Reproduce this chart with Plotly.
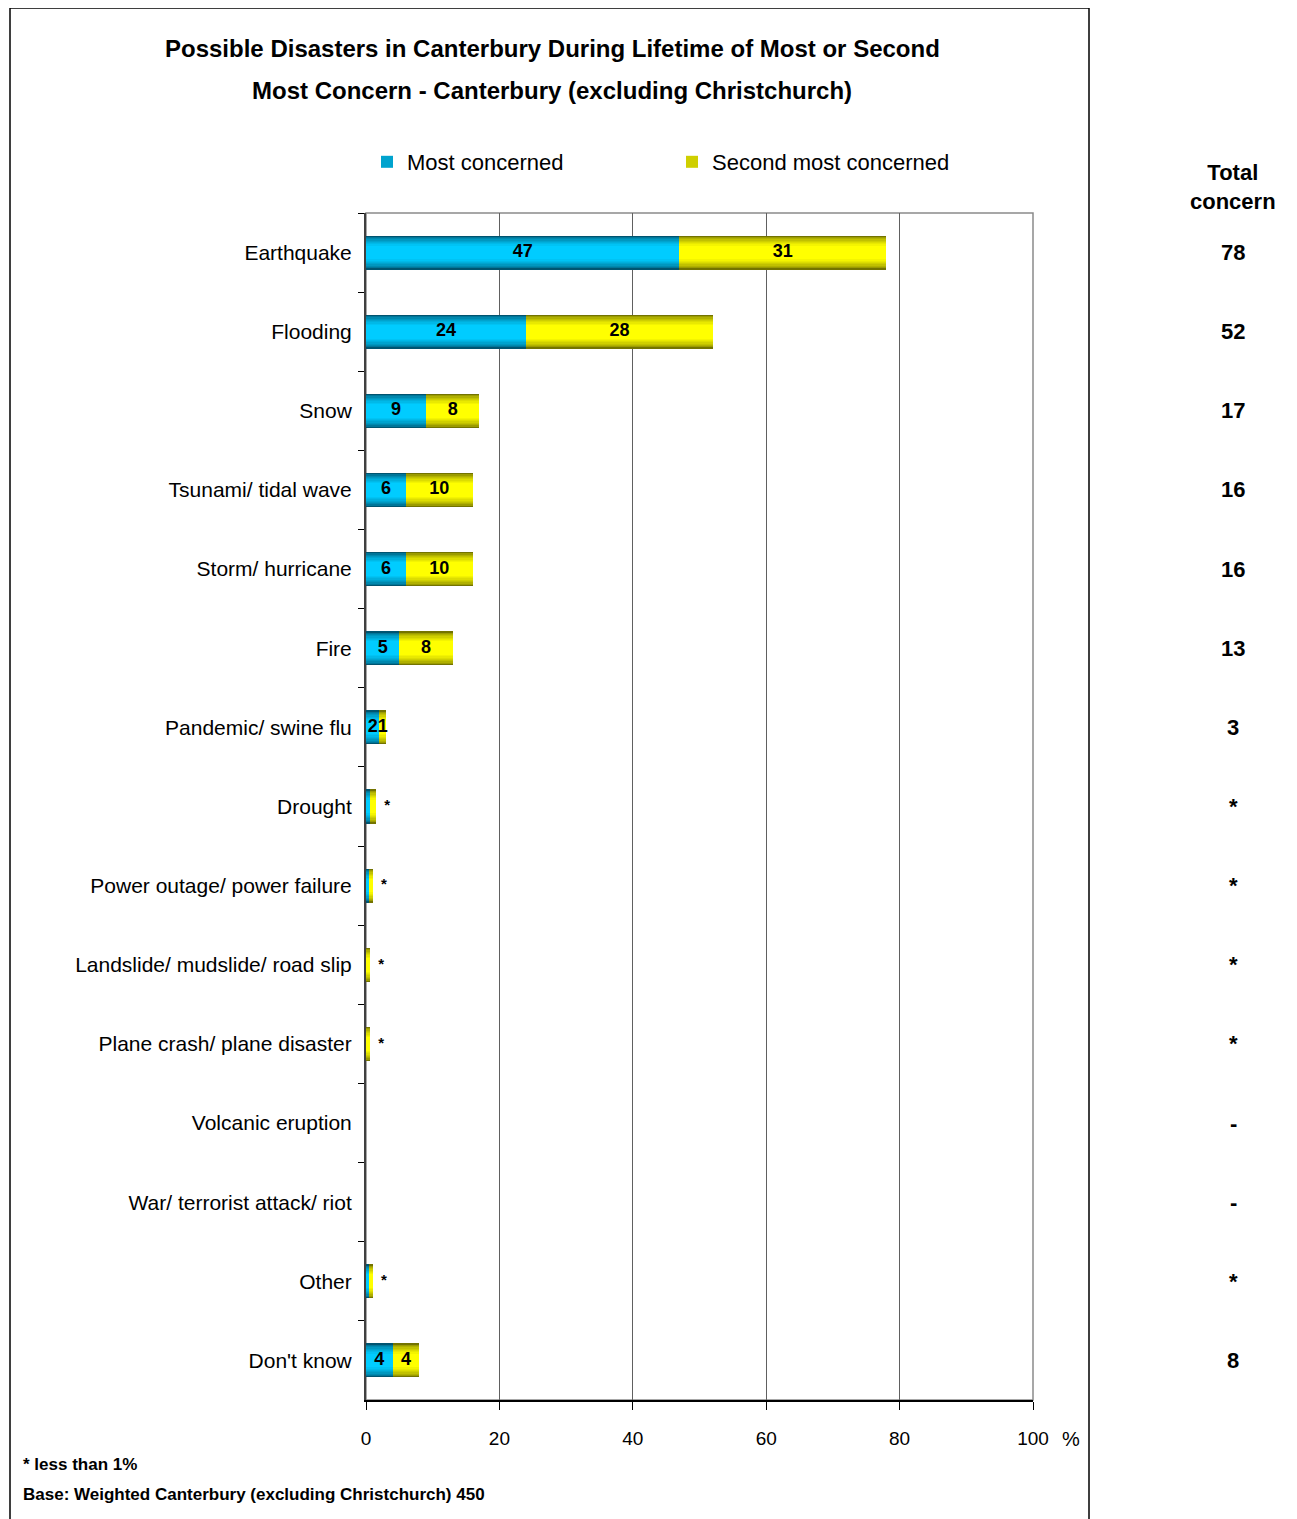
import plotly.graph_objects as go

categories = ["Earthquake", "Flooding", "Snow", "Tsunami/ tidal wave", "Storm/ hurricane",
              "Fire", "Pandemic/ swine flu", "Drought", "Power outage/ power failure",
              "Landslide/ mudslide/ road slip", "Plane crash/ plane disaster",
              "Volcanic eruption", "War/ terrorist attack/ riot", "Other", "Don't know"]
most_concerned = [47, 24, 9, 6, 6, 5, 2, 0.6, 0.4, 0, 0, 0, 0, 0.5, 4]
second_concerned = [31, 28, 8, 10, 10, 8, 1, 0.9, 0.6, 0.6, 0.6, 0, 0, 0.5, 4]
total_labels = ["78", "52", "17", "16", "16", "13", "3", "*", "*", "*", "*", "-", "-", "*", "8"]
x_ticks = [0, 20, 40, 60, 80, 100]

FONT = "Liberation Sans, Arial, sans-serif"

W, H = 1297, 1519
OFF = 8  # page body margin
PL, PR, PT, PB = 366 - OFF, 1033 - OFF, 213 - OFF, 1400 - OFF


def px_x(p):
    return (p - OFF - PL) / (PR - PL)


def px_y(p):
    return (PB - (p - OFF)) / (PB - PT)


def mix(c1, c2, t):
    return "rgb(%d,%d,%d)" % tuple(round(a + (b - a) * t) for a, b in zip(c1, c2))


fig = go.Figure()

BAR_W = 0.43
N = 9
series = [
    ("Most concerned", most_concerned, [0] * len(categories), (0, 84, 112), (0, 204, 255)),
    ("Second most concerned", second_concerned, most_concerned, (115, 115, 0), (255, 255, 0)),
]
for name, vals, base, dark, bright in series:
    for k in range(N):
        t = k / (N - 1)
        frac = 1 - 0.6 * t
        fig.add_trace(go.Bar(
            y=categories, x=vals, base=base, orientation="h",
            width=BAR_W * frac,
            marker=dict(color=mix(dark, bright, min(1, t ** 0.6)), line=dict(width=0)),
            name=name, legendgroup=name, showlegend=(k == 4),
            hoverinfo="skip",
        ))

# value labels inside bars
for vals, base in [(most_concerned, [0] * len(categories)), (second_concerned, most_concerned)]:
    mids = [b + v / 2 for v, b in zip(vals, base)]
    labels = [str(round(v)) if v >= 1 else "" for v in vals]
    fig.add_trace(go.Scatter(
        y=categories, x=mids, mode="text", text=labels, textposition="middle center",
        textfont=dict(family=FONT, size=18, color="black", weight="bold"),
        showlegend=False, hoverinfo="skip"))

# stars for <1% items
totals = [a + b for a, b in zip(most_concerned, second_concerned)]
star_x, star_y = [], []
for c, a, b, t in zip(categories, most_concerned, second_concerned, totals):
    if t > 0 and a < 1 and b < 1:
        star_x.append(t)
        star_y.append(c)
fig.add_trace(go.Scatter(
    y=star_y, x=star_x, mode="text", text=["  *"] * len(star_x), textposition="middle right",
    textfont=dict(family=FONT, size=15, color="black", weight="bold"),
    showlegend=False, hoverinfo="skip"))


def ann(text, x, y, size, bold=True, xanchor="center", yref="paper"):
    return dict(text=text, x=x, y=y, xref="paper", yref=yref, xanchor=xanchor,
                yanchor="middle", showarrow=False,
                font=dict(family=FONT, size=size, color="black",
                          weight="bold" if bold else "normal"))


annotations = [
    ann("Possible Disasters in Canterbury During Lifetime of Most or Second",
        px_x(552), px_y(49), 24),
    ann("Most Concern - Canterbury (excluding Christchurch)", px_x(552), px_y(91), 24),
    ann("Total<br>concern", px_x(1233), px_y(187), 22),
    ann("%", px_x(1071), px_y(1439), 20, bold=False),
    ann("* less than 1%", px_x(21), px_y(1464), 17, xanchor="left"),
    ann("Base: Weighted Canterbury (excluding Christchurch) 450", px_x(21), px_y(1494), 17,
        xanchor="left"),
]
for c, lab in zip(categories, total_labels):
    annotations.append(ann(lab, px_x(1233), c, 22, yref="y"))

shapes = [
    dict(type="rect", xref="paper", yref="paper", x0=0, x1=1, y0=0, y1=1,
         line=dict(color="#8a8a8a", width=1.5), layer="below"),
    dict(type="rect", xref="paper", yref="paper", x0=px_x(10), x1=px_x(1089),
         y0=px_y(1540), y1=px_y(8), line=dict(color="black", width=1.5)),
]

fig.update_layout(
    width=W, height=H,
    margin=dict(l=PL, r=W - PR, t=PT, b=H - PB, autoexpand=False),
    paper_bgcolor="white", plot_bgcolor="white",
    barmode="overlay", bargap=0,
    font=dict(family=FONT, color="black"),
    legend=dict(orientation="h", x=px_x(367), y=px_y(141), xanchor="left", yanchor="top",
                font=dict(family=FONT, size=22, color="black"),
                entrywidth=260, entrywidthmode="pixels", itemwidth=30,
                bgcolor="rgba(0,0,0,0)"),
    xaxis=dict(range=[0, 100], tickvals=x_ticks, showgrid=True, gridcolor="#606060", gridwidth=1,
               showline=True, linecolor="black", linewidth=2, ticks="outside", ticklen=8,
               tickcolor="black", tickfont=dict(family=FONT, size=19, color="black"),
               ticklabelstandoff=12, zeroline=False, fixedrange=True),
    yaxis=dict(categoryorder="array", categoryarray=categories,
               range=[len(categories) - 0.5, -0.5],
               showline=True, linecolor="#404040", linewidth=2, ticks="outside", ticklen=6,
               tickson="boundaries", tickcolor="black", showgrid=False,
               tickfont=dict(family=FONT, size=21, color="black"), ticklabelstandoff=8),
    annotations=annotations, shapes=shapes,
)

fig.write_html("out.html")
